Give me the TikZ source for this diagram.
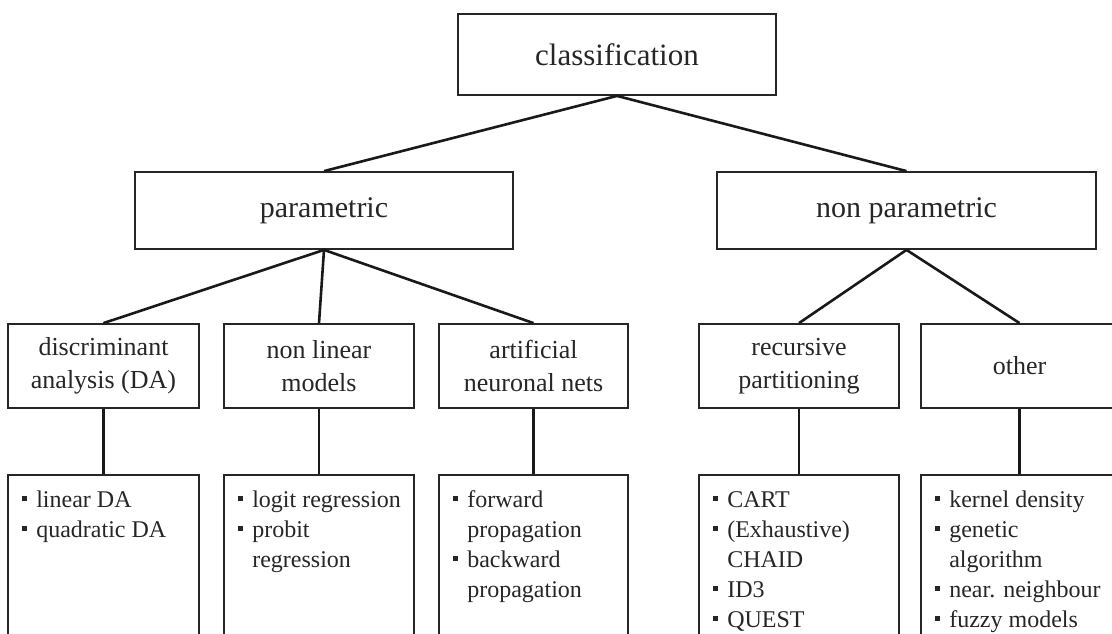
\documentclass[tikz,border=0pt]{standalone}
\usepackage{fontspec}
\setmainfont{Liberation Serif}
\newcommand\bul{\makebox[14pt][l]{\raisebox{6.5pt}{\rule{5pt}{5pt}}}}
\newcommand\ind{\hspace*{14pt}}
\begin{document}
\begin{tikzpicture}[x=1pt,y=-1pt,
  box/.style={draw=black!85,line width=1.8pt,rectangle,inner sep=0pt,text=black!85},
  lvlA/.style={box,font=\fontsize{31}{38}\selectfont},
  lvlB/.style={box,font=\fontsize{30}{37}\selectfont,minimum height=77pt},
  lvlC/.style={box,align=center,font=\fontsize{26}{33}\selectfont,minimum height=84pt},
  lvlD/.style={box,anchor=north,minimum height=200pt},
  list/.style={anchor=north west,inner sep=0pt,align=left,text=black!85,font=\fontsize{24}{30}\selectfont},
  conn/.style={draw=black!90,line width=2.6pt}]
\useasboundingbox (0,0) rectangle (1112,633);
\clip (0,0) rectangle (1112,633);
% level 1
\node[lvlA,minimum width=318pt,minimum height=81pt] (cls) at (617,54.5) {classification};
% level 2
\node[lvlB,minimum width=378pt] (par) at (324,210.5) {parametric};
\node[lvlB,minimum width=379pt] (npar) at (906.5,210.5) {non parametric};
% level 3
\node[lvlC,minimum width=191pt] (da) at (103.5,366) {discriminant\\analysis (DA)};
\node[lvlC,minimum width=190pt] (nl) at (319,366) {non linear\\models};
\node[lvlC,minimum width=189pt] (ann) at (533.5,366) {artificial\\neuronal nets};
\node[lvlC,minimum width=200pt] (rp) at (799,366) {recursive\\partitioning};
\node[lvlC,minimum width=197pt] (ot) at (1019.5,366) {other};
% level 4
\node[lvlD,minimum width=191pt] (da4) at (103.5,474) {};
\node[lvlD,minimum width=190pt] (nl4) at (319,474) {};
\node[lvlD,minimum width=189pt] (ann4) at (533.5,474) {};
\node[lvlD,minimum width=200pt] (rp4) at (799,474) {};
\node[lvlD,minimum width=197pt] (ot4) at (1019.5,474) {};
\node[list] (da4t) at ([shift={(15,12)}]da4.north west) {\strut\bul linear DA\\\strut\bul quadratic DA};
\node[list] (nl4t) at ([shift={(15,12)}]nl4.north west) {\strut\bul logit regression\\\strut\bul probit\\\strut\ind regression};
\node[list] (ann4t) at ([shift={(15,12)}]ann4.north west) {\strut\bul forward\\\strut\ind propagation\\\strut\bul backward\\\strut\ind propagation};
\node[list] (rp4t) at ([shift={(15,12)}]rp4.north west) {\strut\bul CART\\\strut\bul (Exhaustive)\\\strut\ind CHAID\\\strut\bul ID3\\\strut\bul QUEST};
\node[list] (ot4t) at ([shift={(15,12)}]ot4.north west) {\strut\bul kernel density\\\strut\bul genetic\\\strut\ind algorithm\\\strut\bul near. neighbour\\\strut\bul fuzzy models};
% connectors
\draw[conn] (cls.south) -- (par.north);
\draw[conn] (cls.south) -- (npar.north);
\draw[conn] (par.south) -- (da.north);
\draw[conn] (par.south) -- (nl.north);
\draw[conn] (par.south) -- (ann.north);
\draw[conn] (npar.south) -- (rp.north);
\draw[conn] (npar.south) -- (ot.north);
\draw[conn] (da.south) -- (da4.north);
\draw[conn] (nl.south) -- (nl4.north);
\draw[conn] (ann.south) -- (ann4.north);
\draw[conn] (rp.south) -- (rp4.north);
\draw[conn] (ot.south) -- (ot4.north);
\end{tikzpicture}
\end{document}
